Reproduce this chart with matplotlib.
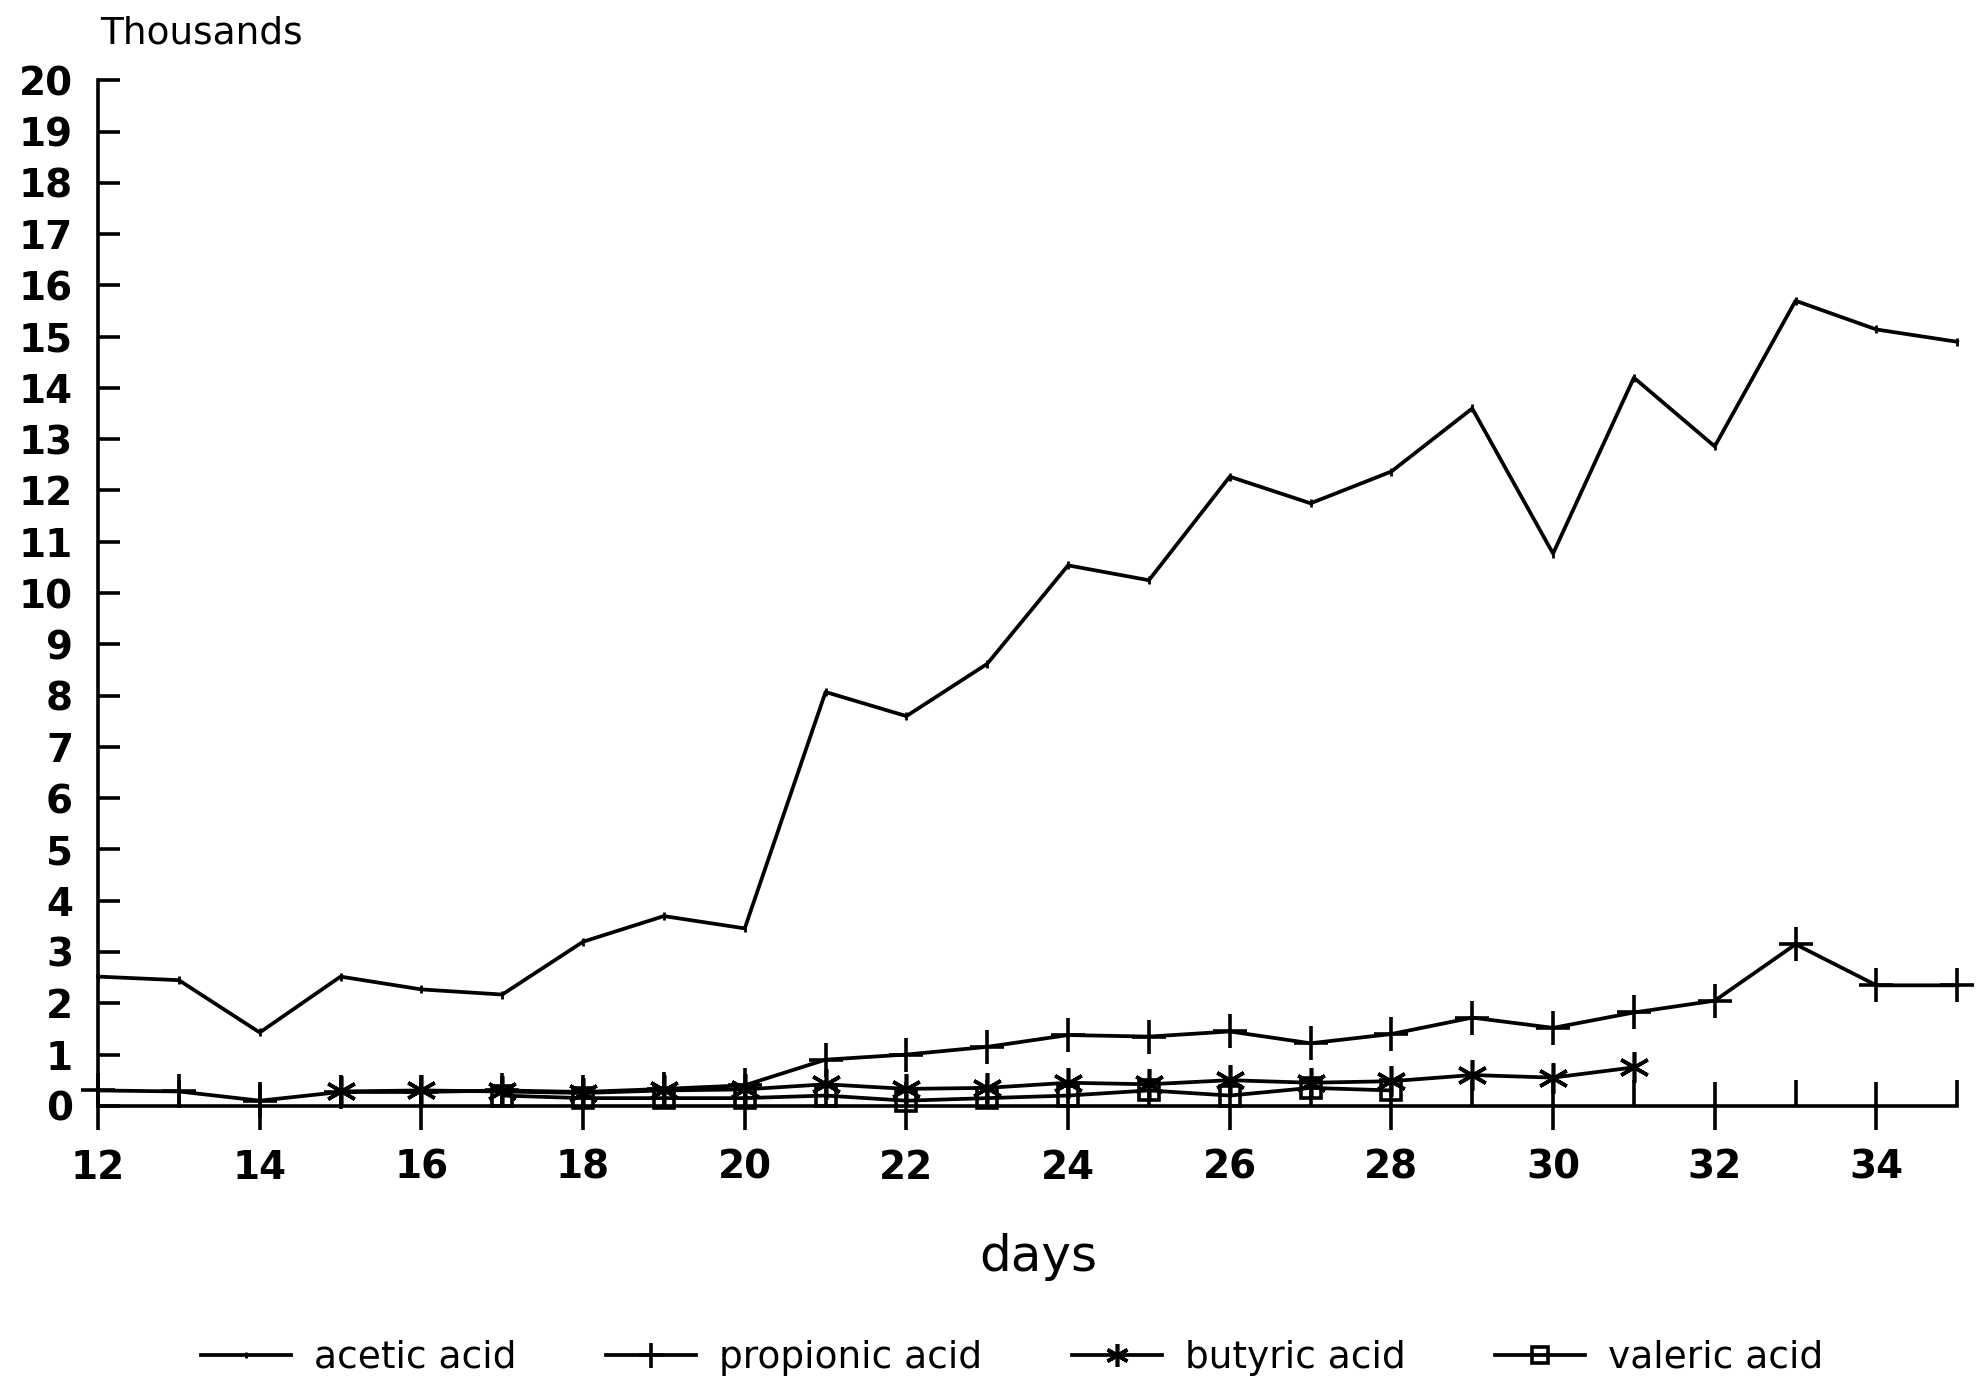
import numpy as np
import matplotlib.pyplot as plt
from matplotlib.ticker import MultipleLocator

# values in thousands
days = list(range(12, 36))
acetic = [2.52, 2.45, 1.43, 2.52, 2.27, 2.17, 3.2, 3.7, 3.46, 8.07, 7.6, 8.62,
          10.54, 10.25, 12.27, 11.75, 12.37, 13.6, 10.77, 14.2, 12.86, 15.7, 15.14, 14.9]
propionic = [0.3, 0.28, 0.1, 0.27, 0.27, 0.3, 0.27, 0.33, 0.4, 0.9, 1.0, 1.15,
             1.38, 1.35, 1.45, 1.22, 1.4, 1.72, 1.52, 1.82, 2.05, 3.15, 2.35, 2.35]

butyric_days = list(range(15, 32))
butyric = [0.28, 0.3, 0.28, 0.25, 0.3, 0.32, 0.42, 0.33, 0.35, 0.45, 0.42, 0.5,
           0.45, 0.48, 0.6, 0.55, 0.75]

valeric_days = list(range(17, 29))
valeric = [0.2, 0.15, 0.15, 0.15, 0.2, 0.1, 0.15, 0.2, 0.3, 0.2, 0.35, 0.3]

plt.rcParams['font.family'] = ['DejaVu Sans']

fig = plt.figure(figsize=(19.81, 13.84), dpi=100)
ax = fig.add_axes([0.0495, 0.201, 0.9385, 0.741])

lw = 2.7
l1, = ax.plot(days, acetic, color='black', lw=lw, marker='|', markersize=6,
              markeredgewidth=2, clip_on=False, label='acetic acid')
l2, = ax.plot(days, propionic, color='black', lw=lw, marker='+', markersize=24,
              markeredgewidth=2.6, clip_on=False, label='propionic acid')
l3, = ax.plot(butyric_days, butyric, color='black', lw=lw, marker=(6, 2, 0), markersize=22,
              markeredgewidth=2.6, clip_on=False, label='butyric acid')
l4, = ax.plot(valeric_days, valeric, color='black', lw=lw, marker='s', markersize=15,
              fillstyle='none', markeredgewidth=2.6, clip_on=False, label='valeric acid')

ax.set_xlim(12, 35)
ax.set_ylim(0, 20)
ax.spines['top'].set_visible(False)
ax.spines['right'].set_visible(False)
ax.spines['left'].set_linewidth(2.6)
ax.spines['bottom'].set_linewidth(2.6)

ax.xaxis.set_major_locator(MultipleLocator(2))
ax.xaxis.set_minor_locator(MultipleLocator(1))
ax.yaxis.set_major_locator(MultipleLocator(1))
ax.tick_params(axis='x', which='major', direction='inout', length=34, width=2.6,
               labelsize=28, pad=14)
ax.tick_params(axis='x', which='minor', direction='in', length=19, width=2.6)
ax.tick_params(axis='y', which='major', direction='in', length=16, width=2.6,
               labelsize=28, pad=18)
for lab in ax.get_xticklabels() + ax.get_yticklabels():
    lab.set_fontweight('bold')

fig.text(100 / 1981, 1 - 34 / 1384, 'Thousands', fontsize=27, ha='left', va='center')
fig.text(1038 / 1981, 1 - 1257 / 1384, 'days', fontsize=36, ha='center', va='center')

fig.legend(handles=[l1, l2, l3, l4], loc='center', bbox_to_anchor=(0.511, 0.019),
           ncol=4, frameon=False, fontsize=27, handlelength=2.4, columnspacing=2.4,
           handletextpad=0.6, markerscale=0.75)

fig.savefig('out.png', dpi=100, facecolor='white')
